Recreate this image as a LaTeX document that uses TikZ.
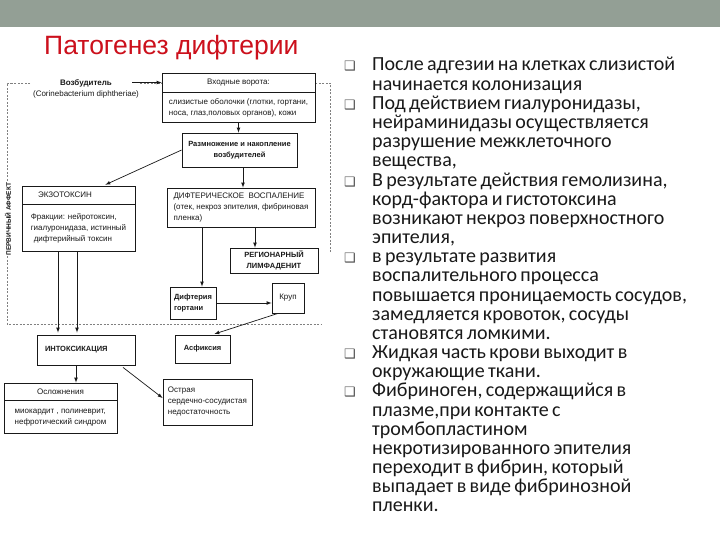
\documentclass[tikz,border=0pt]{standalone}
\usepackage{fontspec}
\setmainfont{Liberation Sans}
\newfontfamily\slidefont{Carlito}
\newfontfamily\markfont{DejaVu Sans}
\usetikzlibrary{positioning}
\definecolor{band}{RGB}{147,159,149}
\definecolor{titlered}{RGB}{204,16,28}
\definecolor{ink}{RGB}{25,25,25}
\tikzset{
  box/.style={draw=ink, line width=0.8pt, fill=white, inner sep=2pt, text=ink,
    font=\fontsize{8}{11}\selectfont},
  heavy/.style={font=\bfseries\fontsize{7.5}{10.5}\selectfont},
  arr/.style={draw=ink, line width=0.7pt, -latex},
  dashframe/.style={draw=gray, line width=0.6pt, dash pattern=on 2pt off 1.5pt},
  item/.style={anchor=base west, inner sep=0pt, text width=340pt, align=left,
    text=black!90, font=\slidefont,
    execute at begin node={\fontsize{20}{19.17}\selectfont\lineskiplimit=-\maxdimen}},
  sqmark/.style={anchor=base west, inner sep=0pt, text=black!70,
    font=\markfont\fontsize{13}{13}\selectfont}
}
\begin{document}
\begin{tikzpicture}[x=1pt, y=-1pt, node distance=0pt]
    \useasboundingbox[fill=white] (0,0) rectangle (720,540);
    \fill[band] (0,0) rectangle (720,27);
    \node[anchor=base west, inner sep=0pt, text=titlered, font=\fontsize{26.5}{26.5}\selectfont] (title) at (44,55) {Патогенез дифтерии};

    \draw[dashframe] (330,252) -- (330,83) -- (7,83) -- (7,324) -- (322,324);
    \node[fill=white, inner sep=1pt, align=center, text=ink, font=\fontsize{8}{11}\selectfont] (vozb) at (86,89) {\textbf{Возбудитель}\\(Corinebacterium diphtheriae)};
    \node[fill=white, rotate=90, inner sep=1pt, text=ink, font=\bfseries\fontsize{6.5}{6.5}\selectfont] (aff) at (8,219) {ПЕРВИЧНЫЙ АФФЕКТ};

    \node[box, minimum width=153pt, minimum height=19pt] (vhodt) at (238.5,82.5) {Входные ворота:};
    \node[box, below=of vhodt, minimum width=153pt, minimum height=30pt, align=left] (vhodb) {слизистые оболочки (глотки, гортани,\\носа, глаз,половых органов), кожи};
    \node[box, heavy, minimum width=115pt, minimum height=34pt, align=center] (razm) at (239.5,150) {Размножение и накопление\\возбудителей};
    \node[box, minimum height=18pt, text width=81pt, inner xsep=16pt, align=left] (ekzot) at (78.5,195) {ЭКЗОТОКСИН};
    \node[box, below=of ekzot, minimum width=113pt, minimum height=47pt, align=left] (ekzob) {Фракции: нейротоксин,\\гиалуронидаза, истинный\\\hspace*{3pt}дифтерийный токсин};
    \node[box, minimum width=148pt, minimum height=39pt, align=left] (dift) at (241,207.5) {ДИФТЕРИЧЕСКОЕ \ ВОСПАЛЕНИЕ\\(отек, некроз эпителия, фибриновая\\пленка)};
    \node[box, heavy, minimum width=88pt, minimum height=25pt, align=center] (regl) at (274,260.5) {РЕГИОНАРНЫЙ\\ЛИМФАДЕНИТ};
    \node[box, heavy, minimum width=46pt, minimum height=32pt, align=left] (dipl) at (193,303) {Дифтерия\\гортани};
    \node[box, minimum width=32pt, minimum height=30pt] (krup) at (288,298) {Круп};
    \node[box, heavy, minimum width=55pt, minimum height=28pt] (asf) at (202.5,349) {Асфиксия};
    \node[box, heavy, minimum height=30pt, text width=82pt, inner xsep=8pt, align=left] (intox) at (86,350) {ИНТОКСИКАЦИЯ};
    \node[box, minimum width=113pt, minimum height=17pt] (oslt) at (60.5,391.5) {Осложнения};
    \node[box, below=of oslt, minimum width=113pt, minimum height=33pt, align=left] (oslb) {миокардит , полиневрит,\\нефротический синдром};
    \node[box, minimum width=89pt, minimum height=46pt, align=left] (ostr) at (207.5,402) {Острая\\сердечно-сосудистая\\недостаточность};

    \draw[arr] ([xshift=-8pt]vozb.east |- vhodt.west) -- (vhodt.west);
    \draw[arr] (vhodb.south) -- (vhodb.south |- razm.north);
    \draw[arr, shorten >=2pt] (razm.west) -- ([xshift=25pt]ekzot.north);
    \draw[arr] ([xshift=3.5pt]razm.south) -- ([xshift=3.5pt]razm.south |- dift.north);
    \draw[arr] ([xshift=14pt]dift.south) -- ([xshift=14pt]dift.south |- regl.north);
    \draw[arr] ([xshift=-39pt]dift.south) -- ([xshift=-39pt]dift.south |- dipl.north);
    \draw[arr] (dipl.east) -- (dipl.east -| krup.west);
    \draw[arr, shorten >=2pt] ([xshift=-10pt]krup.south) -- ([xshift=10pt]asf.north);
    \foreach \dx in {-20.5,-1.5}
      \draw[arr, shorten >=2pt] ([xshift=\dx pt]ekzob.south) -- ([xshift=\dx pt]ekzob.south |- intox.north);
    \draw[arr] ([xshift=-10pt]intox.south) -- ([xshift=-10pt]intox.south |- oslt.north);
    \draw[arr] ([xshift=37pt, yshift=-2pt]intox.south) -- ([yshift=4pt]ostr.west);

    \foreach \k/\txt in {0/{После адгезии на клетках слизистой\\начинается колонизация},
      2/{Под действием гиалуронидазы,\\нейраминидазы осуществляется\\разрушение межклеточного\\вещества,},
      6/{В результате действия гемолизина,\\корд-фактора и гистотоксина\\возникают некроз поверхностного\\эпителия,},
      10/{в результате развития\\воспалительного процесса\\повышается проницаемость сосудов,\\замедляется кровоток, сосуды\\становятся ломкими.},
      15/{Жидкая часть крови выходит в\\окружающие ткани.},
      17/{Фибриноген, содержащийся в\\плазме,при контакте с\\тромбопластином\\некротизированного эпителия\\переходит в фибрин, который\\выпадает в виде фибринозной\\пленки.}} {
      \node[item] (b\k) at (372,{71+19.17*\k}) {\txt};
      \node[sqmark] (m\k) at ([xshift=-28pt]b\k.base west) {❑};
    }
\end{tikzpicture}
\end{document}
